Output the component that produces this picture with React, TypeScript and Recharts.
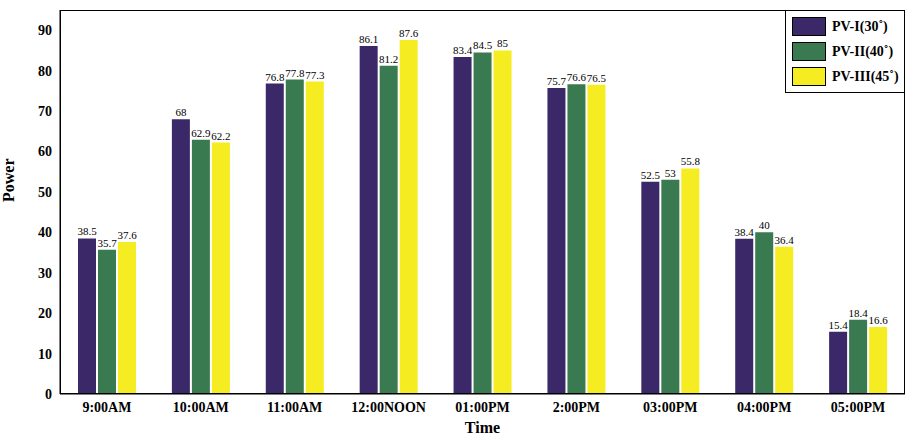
import { BarChart, Bar, XAxis, YAxis, LabelList } from 'recharts';

const times = ['9:00AM', '10:00AM', '11:00AM', '12:00NOON', '01:00PM', '2:00PM', '03:00PM', '04:00PM', '05:00PM'];
const pv1 = [38.5, 68, 76.8, 86.1, 83.4, 75.7, 52.5, 38.4, 15.4];
const pv2 = [35.7, 62.9, 77.8, 81.2, 84.5, 76.6, 53, 40, 18.4];
const pv3 = [37.6, 62.2, 77.3, 87.6, 85, 76.5, 55.8, 36.4, 16.6];
const yTicks = [0, 10, 20, 30, 40, 50, 60, 70, 80, 90];

const series = [
  { key: 'pv1', name: 'PV-I(30˚)', color: '#3b2868' },
  { key: 'pv2', name: 'PV-II(40˚)', color: '#3a7a50' },
  { key: 'pv3', name: 'PV-III(45˚)', color: '#f5ec21' },
];

const data = times.map((t, i) => ({ time: t, pv1: pv1[i], pv2: pv2[i], pv3: pv3[i] }));

const font = '"Liberation Serif", "Times New Roman", serif';

function LegendBox() {
  return (
    <div style={{ position: 'absolute', top: 10, right: 12, border: '1px solid #000', background: '#fff', padding: '3px 6px', width: 106, whiteSpace: 'nowrap', fontFamily: font, fontWeight: 'bold', fontSize: 14 }}>
      {series.map((s) => (
        <div key={s.key} style={{ display: 'flex', alignItems: 'center', height: 25 }}>
          <div style={{ width: 32, height: 17, background: s.color, border: '1px solid #000', marginRight: 6, flexShrink: 0 }} />
          {s.name}
        </div>
      ))}
    </div>
  );
}

export default function App() {
  return (
    <div style={{ position: 'fixed', left: 0, top: 0, width: 917, height: 435, background: '#fff' }}>
      <BarChart width={917} height={435} data={data} margin={{ top: 10, right: 12, left: 0, bottom: 0 }}
        barCategoryGap="19%" barGap={2}>
        <XAxis dataKey="time" height={41} stroke="#000" tickLine={false}
          tick={{ fill: '#000', fontFamily: font, fontWeight: 'bold', fontSize: 14 }}
          label={{ value: 'Time', position: 'insideBottom', offset: 2, fill: '#000', fontFamily: font, fontWeight: 'bold', fontSize: 16 }} />
        <YAxis width={60} domain={[0, 95]} ticks={yTicks} stroke="#000" tickLine={false}
          tick={{ fill: '#000', fontFamily: font, fontWeight: 'bold', fontSize: 14 }}
          label={{ value: 'Power', angle: -90, position: 'insideLeft', offset: 8, fill: '#000', fontFamily: font, fontWeight: 'bold', fontSize: 16 }} />
        {series.map((s) => (
          <Bar key={s.key} dataKey={s.key} name={s.name} fill={s.color} barSize={18} isAnimationActive={false}>
            <LabelList dataKey={s.key} position="top" offset={3} style={{ fill: '#000', fontFamily: font, fontSize: 11 }} />
          </Bar>
        ))}
      </BarChart>
      <div style={{ position: 'absolute', left: 60, top: 10, width: 845, height: 384, border: '1px solid #000', boxSizing: 'border-box', pointerEvents: 'none' }} />
      <LegendBox />
    </div>
  );
}
